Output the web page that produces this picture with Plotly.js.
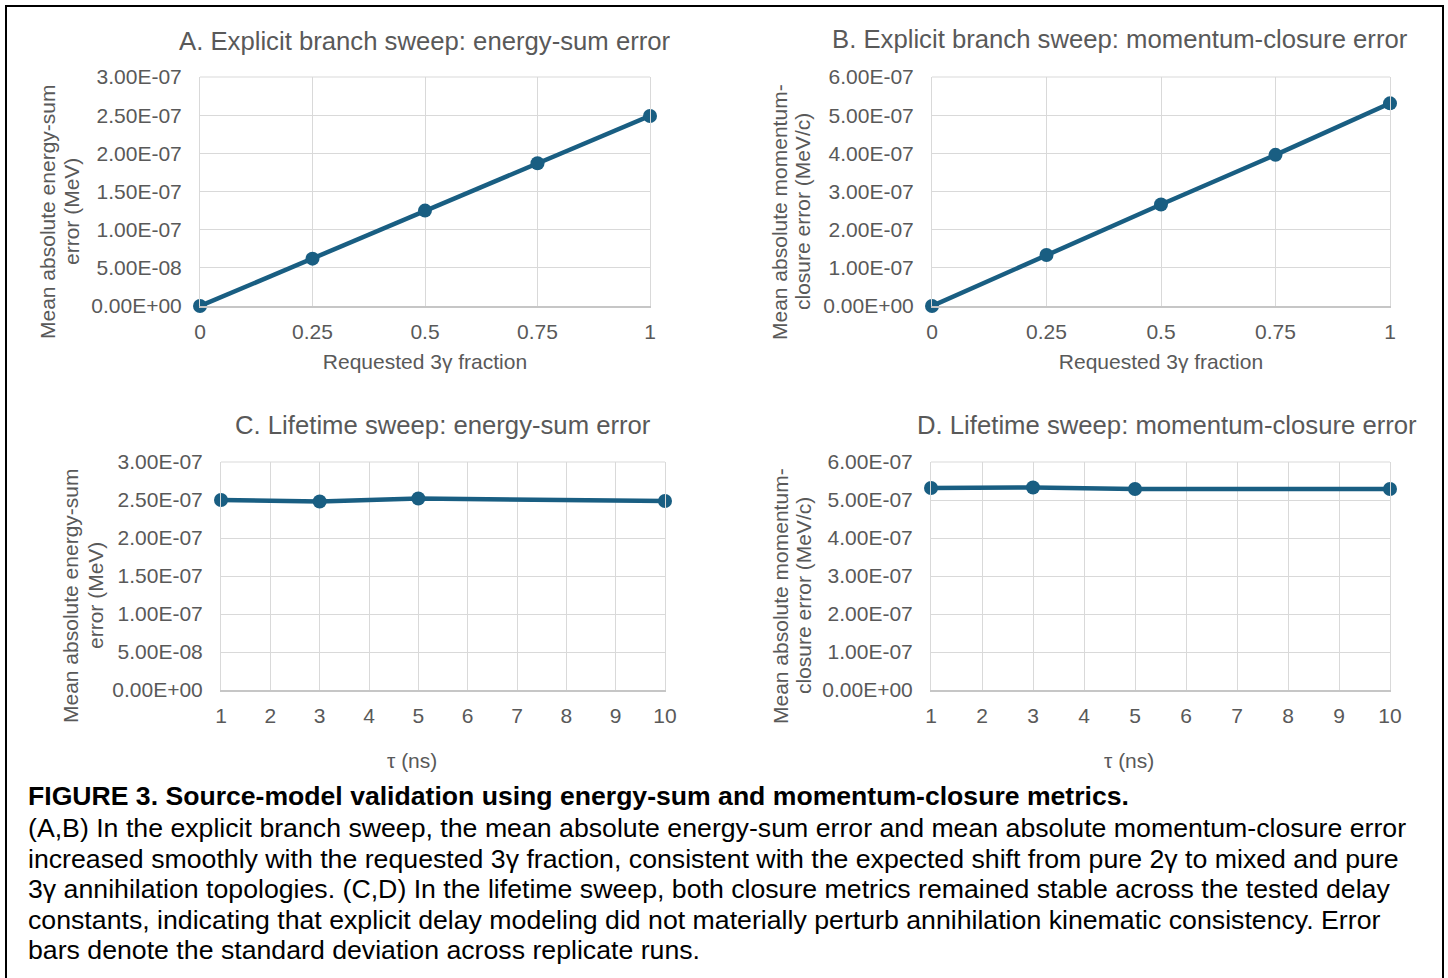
<!DOCTYPE html>
<html>
<head>
<meta charset="utf-8">
<script src="https://cdn.plot.ly/plotly-3.0.1.min.js"></script>
<style>
  html, body { margin: 0; padding: 0; background: #ffffff; }
  #chart { width: 1448px; height: 978px; }
</style>
</head>
<body>
<div id="chart"></div>
<script>
// ---------------- data ----------------
const branchFraction = [0, 0.25, 0.5, 0.75, 1];
const branchEnergyErr = [0, 6.2e-8, 1.25e-7, 1.87e-7, 2.49e-7];
const branchEnergySd = [0, 2e-9, 3e-9, 3e-9, 3e-9];
const branchMomentumErr = [0, 1.335e-7, 2.66e-7, 3.96e-7, 5.31e-7];
const branchMomentumSd = [0, 3e-9, 4e-9, 4e-9, 4e-9];

const lifetimeNs = [1, 3, 5, 10];
const lifetimeEnergyErr = [2.50e-7, 2.48e-7, 2.52e-7, 2.487e-7];
const lifetimeEnergySd = [4e-9, 5e-9, 7e-9, 4e-9];
const lifetimeMomentumErr = [5.315e-7, 5.33e-7, 5.29e-7, 5.29e-7];
const lifetimeMomentumSd = [5e-9, 5e-9, 5e-9, 5e-9];

const fracTicks = [0, 0.25, 0.5, 0.75, 1];
const fracTickLabels = ["0", "0.25", "0.5", "0.75", "1"];
const tauTicks = [1, 2, 3, 4, 5, 6, 7, 8, 9, 10];
const tauTickLabels = ["1", "2", "3", "4", "5", "6", "7", "8", "9", "10"];
const energyTicks = [0, 5e-8, 1e-7, 1.5e-7, 2e-7, 2.5e-7, 3e-7];
const energyTickLabels = ["0.00E+00", "5.00E-08", "1.00E-07", "1.50E-07", "2.00E-07", "2.50E-07", "3.00E-07"];
const momentumTicks = [0, 1e-7, 2e-7, 3e-7, 4e-7, 5e-7, 6e-7];
const momentumTickLabels = ["0.00E+00", "1.00E-07", "2.00E-07", "3.00E-07", "4.00E-07", "5.00E-07", "6.00E-07"];

const panelTitles = [
  "A. Explicit branch sweep: energy-sum error",
  "B. Explicit branch sweep: momentum-closure error",
  "C. Lifetime sweep: energy-sum error",
  "D. Lifetime sweep: momentum-closure error"
];
const xTitleBranch = "Requested 3γ fraction";
const xTitleTau = "τ (ns)";
const yTitleEnergy = ["Mean absolute energy-sum", "error (MeV)"];
const yTitleMomentum = ["Mean absolute momentum-", "closure error (MeV/c)"];

const captionTitle = "FIGURE 3. Source-model validation using energy-sum and momentum-closure metrics.";
const captionLines = [
  "(A,B) In the explicit branch sweep, the mean absolute energy-sum error and mean absolute momentum-closure error",
  "increased smoothly with the requested 3γ fraction, consistent with the expected shift from pure 2γ to mixed and pure",
  "3γ annihilation topologies. (C,D) In the lifetime sweep, both closure metrics remained stable across the tested delay",
  "constants, indicating that explicit delay modeling did not materially perturb annihilation kinematic consistency. Error",
  "bars denote the standard deviation across replicate runs."
];

// ---------------- layout helpers ----------------
const W = 1448, H = 978;
const px = x => x / W;
const py = y => 1 - y / H;

const LINE = '#195e82';
const TEXT = '#595959';
const GRID = '#d9d9d9';
const FONT = 'Liberation Sans, Arial, sans-serif';

function trace(x, y, sd, xa, ya) {
  return {
    type: 'scatter', mode: 'lines+markers', x: x, y: y,
    xaxis: xa, yaxis: ya,
    line: { color: LINE, width: 4.5 },
    marker: { color: LINE, size: 14 },
    error_y: { type: 'data', array: sd, visible: true, color: LINE, thickness: 2, width: 0 },
    hoverinfo: 'x+y', showlegend: false, cliponaxis: false
  };
}

const data = [
  trace(branchFraction, branchEnergyErr, branchEnergySd, 'x', 'y'),
  trace(branchFraction, branchMomentumErr, branchMomentumSd, 'x2', 'y2'),
  trace(lifetimeNs, lifetimeEnergyErr, lifetimeEnergySd, 'x3', 'y3'),
  trace(lifetimeNs, lifetimeMomentumErr, lifetimeMomentumSd, 'x4', 'y4')
];

function xAxis(left, right, anchor, range, vals, labels, title) {
  const ax = {
    domain: [px(left), px(right)], anchor: anchor, range: range,
    tickmode: 'array', tickvals: vals, ticktext: labels,
    showgrid: true, gridcolor: GRID, gridwidth: 1,
    showline: true, linecolor: '#c6c6c6', linewidth: 1.5,
    zeroline: false, ticks: '', ticklabelstandoff: 6,
    tickfont: { family: FONT, size: 21, color: TEXT },
    automargin: false, fixedrange: true
  };
  if (title) ax.title = { text: title, font: { family: FONT, size: 21, color: TEXT }, standoff: 12 };
  return ax;
}
function yAxis(top, bottom, anchor, range, vals, labels) {
  return {
    domain: [py(bottom), py(top)], anchor: anchor, range: range,
    tickmode: 'array', tickvals: vals, ticktext: labels,
    showgrid: true, gridcolor: GRID, gridwidth: 1,
    showline: true, mirror: true, linecolor: GRID, linewidth: 1,
    zeroline: false, ticks: '', ticklabelstandoff: 13,
    tickfont: { family: FONT, size: 21, color: TEXT },
    automargin: false, fixedrange: true
  };
}

const layout = {
  width: W, height: H,
  margin: { l: 0, r: 0, t: 0, b: 0, pad: 0 },
  paper_bgcolor: '#ffffff', plot_bgcolor: '#ffffff',
  font: { family: FONT, color: TEXT },
  showlegend: false,
  xaxis:  xAxis(200, 650, 'y',  [0, 1],  fracTicks, fracTickLabels, xTitleBranch),
  yaxis:  yAxis(77, 306, 'x',  [0, 3e-7], energyTicks, energyTickLabels),
  xaxis2: xAxis(932, 1390, 'y2', [0, 1], fracTicks, fracTickLabels, xTitleBranch),
  yaxis2: yAxis(77, 306, 'x2', [0, 6e-7], momentumTicks, momentumTickLabels),
  xaxis3: xAxis(221, 665, 'y3', [1, 10], tauTicks, tauTickLabels, null),
  yaxis3: yAxis(462, 690, 'x3', [0, 3e-7], energyTicks, energyTickLabels),
  xaxis4: xAxis(931, 1390, 'y4', [1, 10], tauTicks, tauTickLabels, null),
  yaxis4: yAxis(462, 690, 'x4', [0, 6e-7], momentumTicks, momentumTickLabels),
  shapes: [
    { type: 'rect', xref: 'paper', yref: 'paper', x0: px(6), x1: px(1443), y0: py(990), y1: py(6),
      line: { color: '#000000', width: 2 }, fillcolor: 'rgba(0,0,0,0)', layer: 'above' }
  ],
  annotations: []
};

// top frame line of each plot area (gridline colour)
['', '2', '3', '4'].forEach(s => {
  layout.shapes.push({ type: 'line', xref: 'x' + s + ' domain', yref: 'y' + s + ' domain',
    x0: 0, x1: 1, y0: 1, y1: 1, line: { color: GRID, width: 1 }, layer: 'below' });
});

const titlePos = [[425, 41], [1120, 39], [443, 425], [1167, 425]];
panelTitles.forEach((t, i) => {
  layout.annotations.push({
    text: t, xref: 'paper', yref: 'paper', x: px(titlePos[i][0]), y: py(titlePos[i][1]),
    xanchor: 'center', yanchor: 'middle', showarrow: false,
    font: { family: FONT, size: 25.7, color: TEXT }
  });
});

// y-axis titles (two rotated lines each)
const yTitles = [
  [yTitleEnergy, 48, 72, 212],
  [yTitleMomentum, 780, 803, 212],
  [yTitleEnergy, 70, 95, 596],
  [yTitleMomentum, 780, 803, 596]
];
yTitles.forEach(([lines, x1, x2, yc]) => {
  [x1, x2].forEach((xx, k) => {
    layout.annotations.push({
      text: lines[k], xref: 'paper', yref: 'paper', x: px(xx), y: py(yc),
      xanchor: 'center', yanchor: 'middle', textangle: -90, showarrow: false,
      font: { family: FONT, size: 21, color: TEXT }
    });
  });
});

[[412, 760], [1129, 760]].forEach(p => {
  layout.annotations.push({
    text: xTitleTau, xref: 'paper', yref: 'paper', x: px(p[0]), y: py(p[1]),
    xanchor: 'center', yanchor: 'middle', showarrow: false,
    font: { family: FONT, size: 21, color: TEXT }
  });
});
layout.annotations.push({
  text: '<b>' + captionTitle + '</b>', xref: 'paper', yref: 'paper', x: px(26), y: py(796),
  xanchor: 'left', yanchor: 'middle', showarrow: false,
  font: { family: FONT, size: 26.6, color: '#000000' }
});
captionLines.forEach((t, i) => {
  layout.annotations.push({
    text: t, xref: 'paper', yref: 'paper', x: px(26), y: py(828 + i * 30.5),
    xanchor: 'left', yanchor: 'middle', showarrow: false,
    font: { family: FONT, size: 26.7, color: '#000000' }
  });
});

Plotly.newPlot('chart', data, layout, { displayModeBar: false, responsive: false, staticPlot: true });
</script>
</body>
</html>
